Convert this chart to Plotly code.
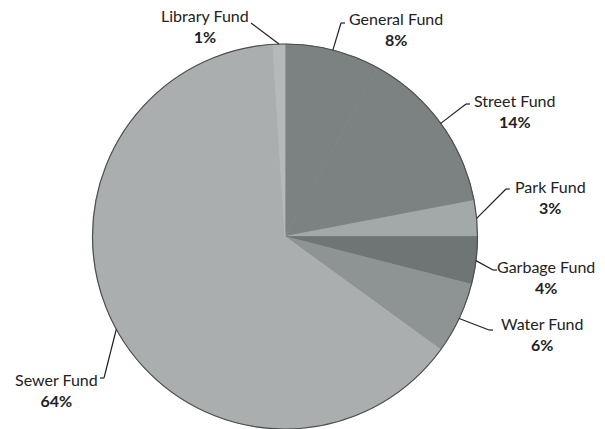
import math
import plotly.graph_objects as go

# ---- data ----
funds = ["General Fund", "Street Fund", "Park Fund", "Garbage Fund", "Water Fund", "Sewer Fund", "Library Fund"]
shares = [8, 14, 3, 4, 6, 64, 1]
pct_labels = ["8%", "14%", "3%", "4%", "6%", "64%", "1%"]

# ---- styling / layout ----
W, H = 605, 429
colors = ["#7c8181", "#7c8181", "#a3a8a8", "#6f7474", "#8e9393", "#abaeae", "#b6b9b9"]
CX, CY, R = 285, 236.5, 192.5  # pie centre / radius in px
label_pos = [(396, 29), (514, 111), (550, 197), (546, 277), (542, 334), (56, 390), (205, 26)]
elbow = [(341, 23), (466, 104), (506, 189), (493, 270), (489, 330), (104, 378), (251, 23)]
elbow_dir = [1, 1, 1, 1, 1, -1, 0]

def px2paper(x, y):
    return x / W, 1 - y / H

fig = go.Figure()
fig.add_trace(go.Pie(
    labels=funds, values=shares, sort=False, direction="clockwise", rotation=0,
    marker=dict(colors=colors, line=dict(width=0.8, color=colors)),
    textinfo="none", hoverinfo="label+percent", showlegend=False,
    domain=dict(x=[(CX - R) / W, (CX + R) / W], y=[0, 2 * R / H]),
))

shapes = []
annotations = []
# outer circle
x0, y0 = px2paper(CX - R, CY + R)
x1, y1 = px2paper(CX + R, CY - R)
shapes.append(dict(type="circle", xref="paper", yref="paper", x0=x0, y0=y0, x1=x1, y1=y1,
                   line=dict(color="#4a4e4e", width=1.2), layer="above"))

total = sum(shares)
cum = 0
for i, v in enumerate(shares):
    mid = (cum + v / 2) / total * 2 * math.pi
    cum += v
    ex = CX + R * math.sin(mid)
    ey = CY - R * math.cos(mid)
    bx, by = elbow[i]
    a = px2paper(ex, ey)
    b = px2paper(bx, by)
    shapes.append(dict(type="line", xref="paper", yref="paper", x0=a[0], y0=a[1], x1=b[0], y1=b[1],
                       line=dict(color="#222222", width=1.2)))
    if elbow_dir[i] != 0:
        c = px2paper(bx + 4 * elbow_dir[i], by)
        shapes.append(dict(type="line", xref="paper", yref="paper", x0=b[0], y0=b[1], x1=c[0], y1=c[1],
                           line=dict(color="#222222", width=1.2)))
    lx, ly = px2paper(*label_pos[i])
    annotations.append(dict(
        x=lx, y=ly, xref="paper", yref="paper", showarrow=False,
        xanchor="center", yanchor="middle", align="center",
        text=f"{funds[i]}<br><b>{pct_labels[i]}</b>",
        font=dict(family="Lato, Open Sans, sans-serif", size=16, color="#222222"),
    ))

fig.update_layout(
    width=W, height=H, margin=dict(l=0, r=0, t=0, b=0),
    paper_bgcolor="white", plot_bgcolor="white",
    shapes=shapes, annotations=annotations,
)
fig.write_html("out.html")
